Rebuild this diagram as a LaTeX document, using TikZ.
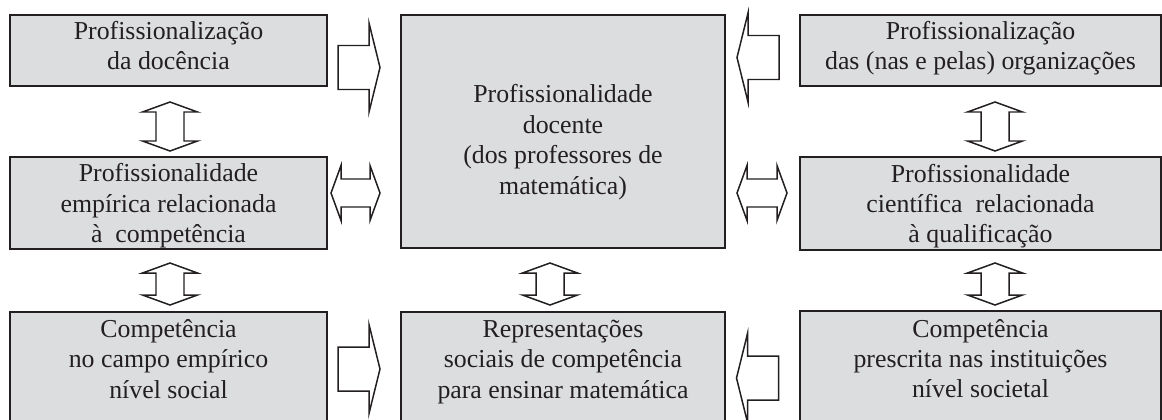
\documentclass[tikz,border=0pt]{standalone}
\usepackage{fontspec}
\setmainfont{Liberation Serif}
\definecolor{boxgray}{RGB}{220,221,223}
\definecolor{inkgray}{RGB}{35,31,32}

\tikzset{
  panel/.style={draw=inkgray, line width=1.3pt, fill=boxgray, text=inkgray,
    align=center, inner sep=0pt, font=\fontsize{14.7}{17.3}\selectfont},
  arrowline/.style={draw=inkgray, line width=0.85pt, fill=white},
  pics/oneway/.style={code={
    \path[arrowline] (-21,-22) -- (10,-22) -- (10,-44.5) -- (21,0)
      -- (10,44.5) -- (10,22) -- (-21,22) -- cycle;}},
  pics/twoway/.style={code={
    \path[arrowline] (-#1,0) -- (-#1+10,-27.5) -- (-#1+10,-14) -- (#1-10,-14)
      -- (#1-10,-27.5) -- (#1,0) -- (#1-10,27.5) -- (#1-10,14)
      -- (-#1+10,14) -- (-#1+10,27.5) -- cycle;}}
}

\begin{document}
\begin{tikzpicture}[x=0.2mm,y=-0.2mm]
\useasboundingbox (0,0) rectangle (1162,419);
\clip (0,0) rectangle (1162,419);

% Left column
\node[panel, minimum width=63.4mm, minimum height=14.2mm, text depth=2mm] (lt)
  at (168.5,50.5) {Profissionalização\\da docência};
\node[panel, minimum width=63.4mm, minimum height=18.4mm, text depth=-1.3mm] (lm)
  at (168.5,203) {Profissionalidade\\empírica relacionada\\à~ competência};
\node[panel, minimum width=63.4mm, minimum height=21.8mm, text depth=3mm] (lb)
  at (168.5,366.5) {Competência\\no campo empírico\\nível social};

% Centre column
\node[panel, minimum width=64.8mm, minimum height=46.6mm, text height=26.1mm] (c)
  at (563,131.5) {Profissionalidade\\docente\\(dos professores de\\matemática)};
\node[panel, minimum width=64.8mm, minimum height=21.8mm, text depth=3mm] (cb)
  at (563,366.5) {Representações\\sociais de competência\\para ensinar matemática};

% Right column
\node[panel, minimum width=72.2mm, minimum height=14.2mm, text depth=2mm] (rt)
  at (980.5,50.5) {Profissionalização\\das (nas e pelas) organizações};
\node[panel, minimum width=72.2mm, minimum height=18.6mm, text depth=-1.3mm] (rm)
  at (980.5,203.5) {Profissionalidade\\científica~ relacionada\\à qualificação};
\node[panel, minimum width=72.2mm, minimum height=22mm, text depth=3mm] (rb)
  at (980.5,366) {Competência\\prescrita nas instituições\\nível societal};

% Block arrows
\pic (a1) at (359,67.5) {oneway};
\pic[xscale=-1] (a2) at (758,57.5) {oneway};
\pic (a3) at (359,369) {oneway};
\pic[xscale=-1] (a4) at (757.5,378) {oneway};
\pic (d1) at (355.5,193) {twoway=24.5};
\pic (d2) at (762,193) {twoway=25};
\pic[rotate=90] (v1) at (170,126.5) {twoway=24.5};
\pic[rotate=90] (v2) at (170,284) {twoway=21};
\pic[rotate=90] (v3) at (550,284) {twoway=21};
\pic[rotate=90] (v4) at (995,126.5) {twoway=24.5};
\pic[rotate=90] (v5) at (995,284) {twoway=21};
\end{tikzpicture}
\end{document}
